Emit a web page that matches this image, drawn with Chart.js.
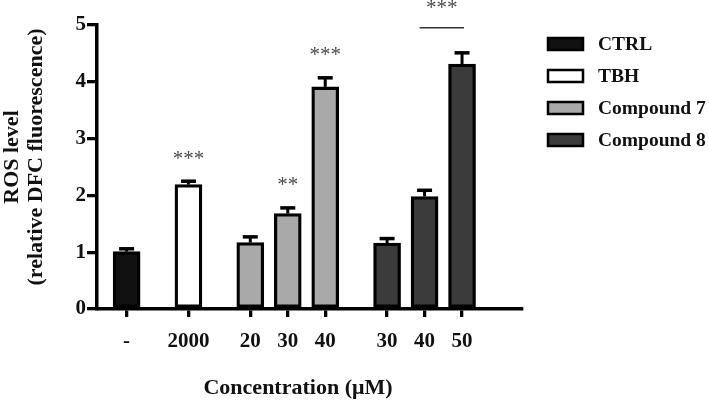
<!DOCTYPE html>
<html><head><meta charset="utf-8">
<script src="https://cdn.jsdelivr.net/npm/chart.js@4.4.1/dist/chart.umd.min.js"></script>
<style>html,body{margin:0;padding:0;background:#fff;}#wrap{width:709px;height:402px;}</style>
</head><body><div id="wrap"><canvas id="c" width="709" height="402"></canvas></div>
<script>
// ---- data ----
const seriesNames = ['CTRL', 'TBH', 'Compound 7', 'Compound 8'];
const tickLabels = ['-', '2000', '20', '30', '40', '30', '40', '50'];
const tickPositions = [0, 1.65, 3.3, 4.3, 5.3, 6.95, 7.95, 8.95];
const ctrlValues = [1.01];
const ctrlErrors = [0.05];
const tbhValues = [2.19];
const tbhErrors = [0.06];
const c7Values = [1.17, 1.68, 3.91];
const c7Errors = [0.10, 0.10, 0.16];
const c8Values = [1.16, 1.98, 4.31];
const c8Errors = [0.08, 0.11, 0.20];
const sigMarks = [ {bar: 1, text: '***'}, {bar: 3, text: '**'}, {bar: 4, text: '***'} ];
const sigBracket = {from: 6, to: 7, text: '***'};

const seriesColors = ['#111111', '#ffffff', '#a9a9a9', '#3b3b3b'];
const FONT = '"Liberation Serif", "Times New Roman", serif';

function pts(startIdx, vals) {
  return vals.map((v, i) => ({x: tickPositions[startIdx + i], y: v}));
}
const groups = [
  {start: 0, vals: ctrlValues, err: ctrlErrors},
  {start: 1, vals: tbhValues, err: tbhErrors},
  {start: 2, vals: c7Values, err: c7Errors},
  {start: 5, vals: c8Values, err: c8Errors}
];
const allValues = [].concat(ctrlValues, tbhValues, c7Values, c8Values);
const allErrors = [].concat(ctrlErrors, tbhErrors, c7Errors, c8Errors);

const datasets = groups.map((g, i) => ({
  label: seriesNames[i],
  data: pts(g.start, g.vals),
  err: g.err,
  backgroundColor: seriesColors[i],
  borderColor: '#000',
  borderWidth: 3.3,
  borderSkipped: false,
  grouped: false,
  barThickness: 27
}));

const overlay = {
  id: 'overlay',
  afterDatasetsDraw(chart) {
    const {ctx} = chart;
    const y = chart.scales.y;
    chart.data.datasets.forEach((ds, di) => {
      const meta = chart.getDatasetMeta(di);
      meta.data.forEach((el, i) => {
        const top = y.getPixelForValue(ds.data[i].y + ds.err[i]);
        ctx.save();
        ctx.strokeStyle = '#000';
        ctx.lineWidth = 3;
        ctx.beginPath();
        ctx.moveTo(el.x, el.y);
        ctx.lineTo(el.x, top);
        ctx.stroke();
        ctx.lineWidth = 3.5;
        ctx.beginPath();
        ctx.moveTo(el.x - 7.5, top);
        ctx.lineTo(el.x + 7.5, top);
        ctx.stroke();
        ctx.restore();
      });
    });
  },
  afterDraw(chart) {
    const {ctx} = chart;
    const x = chart.scales.x, y = chart.scales.y;
    ctx.save();
    // significance marks
    ctx.fillStyle = '#4a4a4a';
    ctx.textAlign = 'center';
    ctx.textBaseline = 'middle';
    ctx.font = '21px ' + FONT;
    sigMarks.forEach(m => {
      const px = x.getPixelForValue(tickPositions[m.bar]);
      const py = y.getPixelForValue(allValues[m.bar] + allErrors[m.bar]) - 22;
      ctx.fillText(m.text, px, py);
    });
    const bl = x.getPixelForValue(tickPositions[sigBracket.from]) - 5;
    const br = x.getPixelForValue(tickPositions[sigBracket.to]) + 2;
    const by = y.getPixelForValue(allValues[sigBracket.to] + allErrors[sigBracket.to]) - 25;
    ctx.strokeStyle = '#333';
    ctx.lineWidth = 1.5;
    ctx.beginPath(); ctx.moveTo(bl, by); ctx.lineTo(br, by); ctx.stroke();
    ctx.fillText(sigBracket.text, (bl + br) / 2, by - 19);

    // legend
    ctx.textAlign = 'left';
    ctx.font = 'bold 19.5px ' + FONT;
    seriesNames.forEach((n, i) => {
      const ty = 38 + 32 * i;
      ctx.fillStyle = seriesColors[i];
      ctx.fillRect(548, ty, 35, 12);
      ctx.strokeStyle = '#000';
      ctx.lineWidth = 2.5;
      ctx.strokeRect(548, ty, 35, 12);
      ctx.fillStyle = '#111';
      ctx.fillText(n, 598, ty + 7);
    });

    // axis titles
    ctx.fillStyle = '#111';
    ctx.font = 'bold 22px ' + FONT;
    ctx.textAlign = 'center';
    ctx.fillText('Concentration (\u03bcM)', 298, 388);
    ctx.textBaseline = 'alphabetic';
    ctx.save();
    ctx.translate(18, 157); ctx.rotate(-Math.PI / 2);
    ctx.fillText('ROS level', 0, 0);
    ctx.restore();
    ctx.save();
    ctx.translate(42, 157); ctx.rotate(-Math.PI / 2);
    ctx.fillText('(relative DFC fluorescence)', 0, 0);
    ctx.restore();
    ctx.restore();
  }
};

new Chart(document.getElementById('c'), {
  type: 'bar',
  data: {datasets},
  options: {
    responsive: false,
    animation: false,
    layout: {padding: {left: 0, right: 187, top: 25, bottom: 0}},
    plugins: {legend: {display: false}, tooltip: {enabled: false}},
    scales: {
      x: {
        type: 'linear', min: -0.79, max: 10.55, offset: false,
        grid: {drawOnChartArea: false, drawTicks: true, tickLength: 8, color: '#000', lineWidth: 3.3, offset: false},
        border: {display: true, color: '#000', width: 3.5},
        ticks: {
          autoSkip: false, maxRotation: 0, padding: 12, color: '#111',
          font: {family: FONT, size: 21, weight: 'bold'},
          callback: (v, i) => tickLabels[i]
        },
        afterBuildTicks: s => { s.ticks = tickPositions.map(v => ({value: v})); },
        afterFit: s => { s.height = 93; }
      },
      y: {
        min: 0, max: 5,
        grid: {drawOnChartArea: false, drawTicks: true, tickLength: 10, color: '#000', lineWidth: 3.3},
        border: {display: true, color: '#000', width: 3.5},
        ticks: {stepSize: 1, padding: 1, color: '#111', font: {family: FONT, size: 21, weight: 'bold'}},
        afterFit: s => { s.width = 97; }
      }
    }
  },
  plugins: [overlay]
});
</script></body></html>
